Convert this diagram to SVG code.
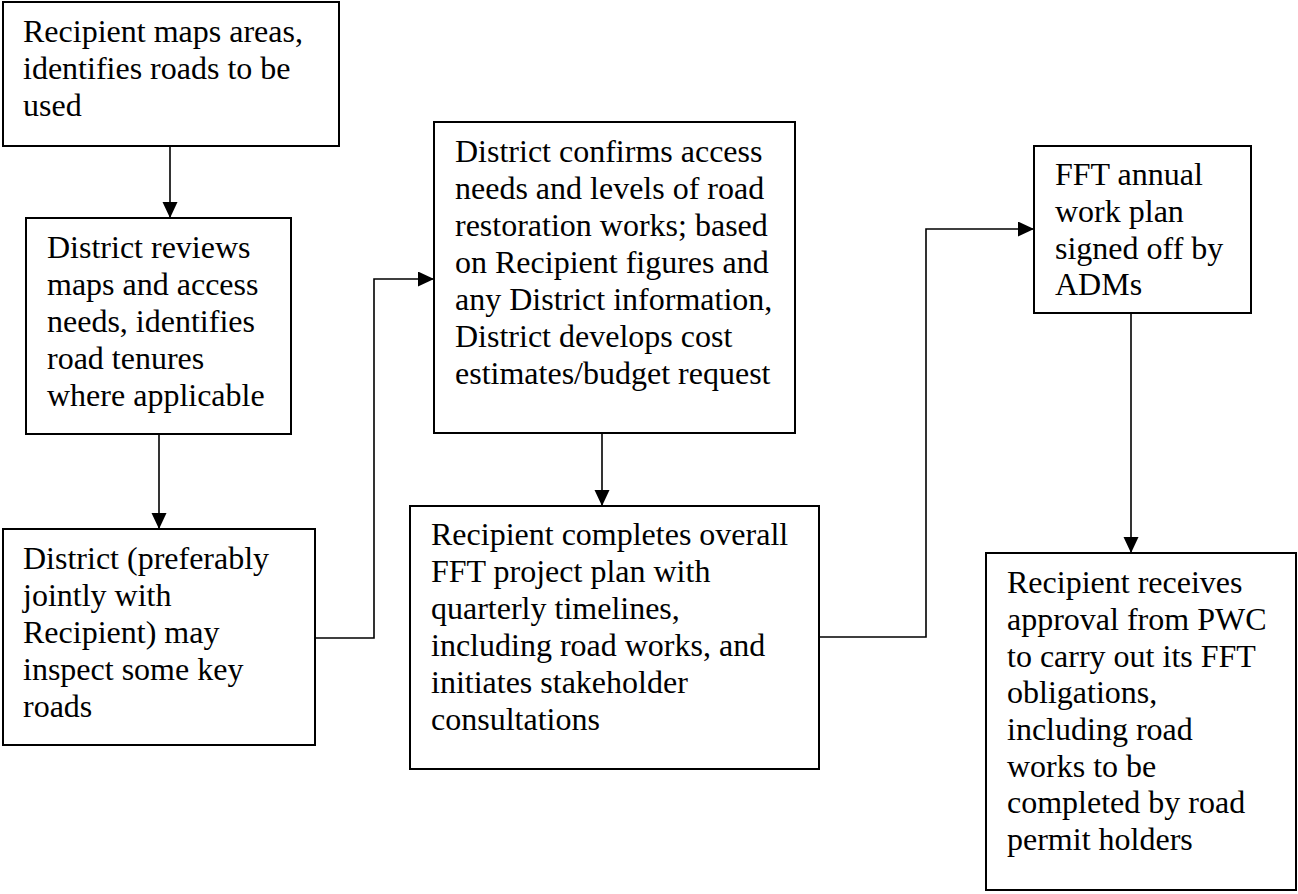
<svg xmlns="http://www.w3.org/2000/svg" width="1298" height="894" viewBox="0 0 1298 894">
<style>
.box{fill:#fff;stroke:#000;stroke-width:2}
.c{fill:none;stroke:#000;stroke-width:1.6}
</style>
<defs>
<marker id="ah" markerUnits="userSpaceOnUse" markerWidth="16" markerHeight="16" refX="16" refY="7.5" orient="auto">
<path d="M0,0 L16,7.5 L0,15 z" fill="#000"/>
</marker>
</defs>
<rect width="1298" height="894" fill="#fff"/>
<g id="connectors">
<path class="c" d="M170,146 V218" marker-end="url(#ah)"/>
<path class="c" d="M159,434 V529" marker-end="url(#ah)"/>
<path class="c" d="M315,638 H374 V279 H434" marker-end="url(#ah)"/>
<path class="c" d="M602,433 V506" marker-end="url(#ah)"/>
<path class="c" d="M819,637 H926 V229 H1034" marker-end="url(#ah)"/>
<path class="c" d="M1131,313 V553" marker-end="url(#ah)"/>
</g>
<g font-family="Liberation Serif, Tinos, Times New Roman, serif" font-size="32" fill="#000">
<g id="n1">
<rect class="box" x="3" y="2" width="336" height="144"/>
<text><tspan x="23" y="42">Recipient maps areas,</tspan><tspan x="23" y="79">identifies roads to be</tspan><tspan x="23" y="116">used</tspan></text>
</g>
<g id="n2">
<rect class="box" x="26" y="218" width="265" height="216"/>
<text><tspan x="47" y="258">District reviews</tspan><tspan x="47" y="295">maps and access</tspan><tspan x="47" y="332">needs, identifies</tspan><tspan x="47" y="369">road tenures</tspan><tspan x="47" y="406">where applicable</tspan></text>
</g>
<g id="n3">
<rect class="box" x="3" y="529" width="312" height="216"/>
<text><tspan x="23" y="569">District (preferably</tspan><tspan x="23" y="606">jointly with</tspan><tspan x="23" y="643">Recipient) may</tspan><tspan x="23" y="680">inspect some key</tspan><tspan x="23" y="717">roads</tspan></text>
</g>
<g id="n4">
<rect class="box" x="434" y="122" width="361" height="311"/>
<text><tspan x="455" y="162">District confirms access</tspan><tspan x="455" y="199">needs and levels of road</tspan><tspan x="455" y="236">restoration works; based</tspan><tspan x="455" y="273">on Recipient figures and</tspan><tspan x="455" y="310">any District information,</tspan><tspan x="455" y="347">District develops cost</tspan><tspan x="455" y="384">estimates/budget request</tspan></text>
</g>
<g id="n5">
<rect class="box" x="410" y="506" width="409" height="263"/>
<text><tspan x="431" y="545">Recipient completes overall</tspan><tspan x="431" y="582">FFT project plan with</tspan><tspan x="431" y="619">quarterly timelines,</tspan><tspan x="431" y="656">including road works, and</tspan><tspan x="431" y="693">initiates stakeholder</tspan><tspan x="431" y="730">consultations</tspan></text>
</g>
<g id="n6">
<rect class="box" x="1034" y="146" width="217" height="167"/>
<text><tspan x="1055" y="185">FFT annual</tspan><tspan x="1055" y="222">work plan</tspan><tspan x="1055" y="259">signed off by</tspan><tspan x="1055" y="295">ADMs</tspan></text>
</g>
<g id="n7">
<rect class="box" x="986" y="553" width="310" height="337"/>
<text><tspan x="1007" y="593">Recipient receives</tspan><tspan x="1007" y="630">approval from PWC</tspan><tspan x="1007" y="667">to carry out its FFT</tspan><tspan x="1007" y="703">obligations,</tspan><tspan x="1007" y="740">including road</tspan><tspan x="1007" y="777">works to be</tspan><tspan x="1007" y="813">completed by road</tspan><tspan x="1007" y="850">permit holders</tspan></text>
</g>
</g>
</svg>
